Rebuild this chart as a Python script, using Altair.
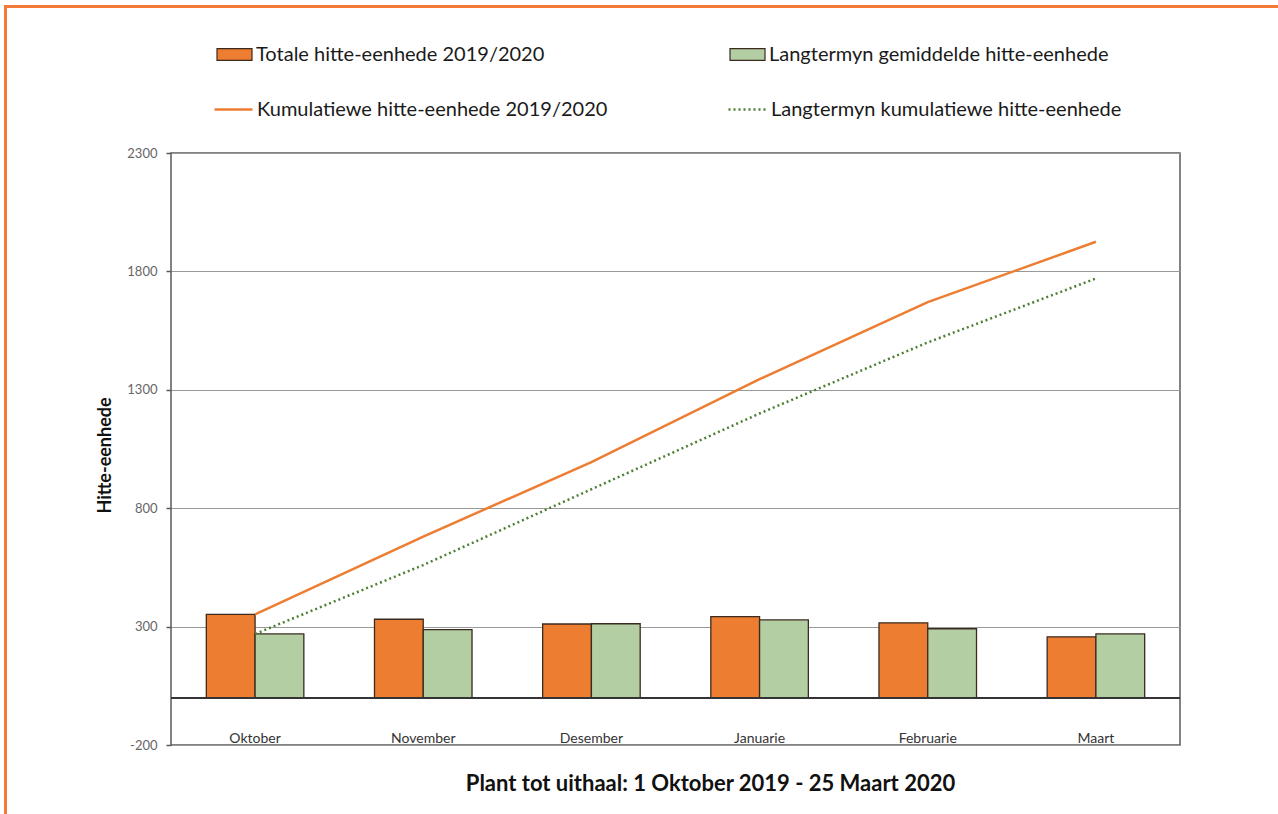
import altair as alt
import pandas as pd

# ---- data ----
months = ["Oktober", "November", "Desember", "Januarie", "Februarie", "Maart"]
totale = [352, 331, 311, 342, 316, 257]
gemiddeld = [269, 287, 312, 328, 291, 269]
kumulatief = [352, 680, 995, 1345, 1670, 1925]
kumulatief_lt = [269, 560, 880, 1200, 1500, 1770]

S_TOT = "Totale hitte-eenhede 2019/2020"
S_GEM = "Langtermyn gemiddelde hitte-eenhede"
S_KUM = "Kumulatiewe hitte-eenhede 2019/2020"
S_KLT = "Langtermyn kumulatiewe hitte-eenhede"

y_ticks = [-200, 300, 800, 1300, 1800, 2300]

ORANGE = "#ED7D31"
GREEN_FILL = "#B3CEA2"
GREEN_LINE = "#4E7F34"
BAR_STROKE = "#3B2B1F"
FRAME = "#F47A3A"
FONT = "Lato"

df_tot = pd.DataFrame({"month": months, "value": totale, "series": S_TOT})
df_gem = pd.DataFrame({"month": months, "value": gemiddeld, "series": S_GEM})
df_kum = pd.DataFrame({"month": months, "value": kumulatief, "series": S_KUM})
df_klt = pd.DataFrame({"month": months, "value": kumulatief_lt, "series": S_KLT})

W, H = 1009, 592

x_enc = alt.X(
    "month:N",
    sort=months,
    scale=alt.Scale(paddingInner=0.42, paddingOuter=0.21),
    axis=alt.Axis(
        title="Plant tot uithaal: 1 Oktober 2019 - 25 Maart 2020",
        titleFont=FONT, titleFontSize=22, titleFontWeight="bold", titleColor="#111111",
        titleX=539, titleY=38, titleAlign="center", titleBaseline="middle",
        labelAngle=0, labelFont=FONT, labelFontSize=14, labelColor="#333333",
        labelPadding=-14, ticks=False, domain=False, grid=False,
    ),
)
y_enc = alt.Y(
    "value:Q",
    scale=alt.Scale(domain=[-200, 2300], nice=False, zero=False),
    axis=alt.Axis(
        values=y_ticks, title="Hitte-eenhede",
        titleFont=FONT, titleFontSize=18, titleFontWeight="bold", titleColor="#111111",
        titleX=-66, titleY=H / 2 + 6, titleAlign="center", titleBaseline="middle", titleAngle=270,
        labelExpr="datum.value + ''",
        labelFont=FONT, labelFontSize=13, labelColor="#666666", labelPadding=9,
        tickSize=5, tickColor="#595959", tickWidth=1.5, domain=False,
        grid=True, gridColor="#999999", gridWidth=1,
    ),
)
xoff = alt.XOffset("series:N", scale=alt.Scale(domain=[S_TOT, S_GEM]))

rect_path = "M-1,-0.34H1V0.34H-1Z"

def bar_legend(lx, ly):
    return alt.Legend(
        title=None, orient="none", legendX=lx, legendY=ly, padding=0,
        symbolType=rect_path, symbolSize=1225, symbolStrokeColor=BAR_STROKE,
        symbolStrokeWidth=1.2, labelFont=FONT, labelFontSize=20, labelColor="#1a1a1a",
        labelOffset=3, labelLimit=600,
    )

def line_legend(lx, ly, dash=None):
    kw = dict(
        title=None, orient="none", legendX=lx, legendY=ly, padding=0,
        symbolType="stroke", symbolSize=1444, symbolStrokeWidth=2.5,
        labelFont=FONT, labelFontSize=20, labelColor="#1a1a1a",
        labelOffset=3, labelLimit=600,
    )
    if dash:
        kw["symbolDash"] = dash
    return alt.Legend(**kw)

bars_tot = alt.Chart(df_tot).mark_bar(stroke=BAR_STROKE, strokeWidth=1.3).encode(
    x=x_enc, y=y_enc, xOffset=xoff,
    fill=alt.Fill("series:N", scale=alt.Scale(domain=[S_TOT], range=[ORANGE]),
                  legend=bar_legend(45, -117)),
)
bars_gem = alt.Chart(df_gem).mark_bar(stroke=BAR_STROKE, strokeWidth=1.3).encode(
    x=x_enc, y=y_enc, xOffset=xoff,
    fill=alt.Fill("series:N", scale=alt.Scale(domain=[S_GEM], range=[GREEN_FILL]),
                  legend=bar_legend(558, -117)),
)
zero_rule = alt.Chart(df_tot).mark_rule(color="#333333", strokeWidth=1.5).encode(
    y=alt.datum(0)
)
line_kum = alt.Chart(df_kum).mark_line(strokeWidth=2.5).encode(
    x=x_enc, y=y_enc,
    stroke=alt.Stroke("series:N", scale=alt.Scale(domain=[S_KUM], range=[ORANGE]),
                      legend=line_legend(42, -64)),
)
line_klt = alt.Chart(df_klt).mark_line(strokeWidth=2.5, strokeDash=[2, 3]).encode(
    x=x_enc, y=y_enc,
    stroke=alt.Stroke("series:N", scale=alt.Scale(domain=[S_KLT], range=[GREEN_LINE]),
                      legend=line_legend(556, -64, [2, 3])),
)

# decorative orange frame (top and left edges of the page)
frame_top = alt.Chart(df_tot).mark_rule(color=FRAME, strokeWidth=3).encode(
    x=alt.value(-167), x2=alt.value(1278 - 171), y=alt.value(6.5 - 153)
)
frame_left = alt.Chart(df_tot).mark_rule(color=FRAME, strokeWidth=3).encode(
    x=alt.value(5.5 - 171), y=alt.value(5 - 153), y2=alt.value(814 - 153)
)

chart = (
    alt.layer(frame_top, frame_left, bars_tot, bars_gem, zero_rule, line_kum, line_klt)
    .resolve_scale(fill="independent", stroke="independent")
    .properties(
        width=W, height=H,
        autosize=alt.AutoSizeParams(type="none"),
        padding={"left": 171, "top": 153, "right": 98, "bottom": 69},
        background="white",
    )
    .configure_view(stroke="#595959", strokeWidth=1.5)
)

chart.save("out.html", embed_options={"renderer": "svg", "actions": False})
